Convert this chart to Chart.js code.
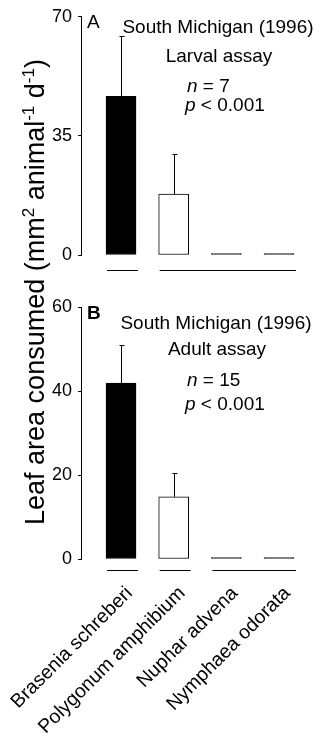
<!DOCTYPE html>
<html><head><meta charset="utf-8">
<script src="https://cdn.jsdelivr.net/npm/chart.js@4"></script>
<style>
html,body{margin:0;padding:0;background:#fff;}
#wrap{position:relative;width:321px;height:741px;overflow:hidden;background:#fff;}
#ca{position:absolute;left:0;top:0;}
#cb{position:absolute;left:0;top:290px;}
#ytitle{position:absolute;left:-205px;top:277px;width:480px;height:30px;line-height:30px;text-align:center;
  font-family:"Liberation Sans",Arial,Helvetica,sans-serif;font-size:27px;white-space:nowrap;color:#000;
  transform:rotate(-90deg);transform-origin:50% 50%;}
#ytitle sup{font-size:17px;vertical-align:baseline;position:relative;top:-10px;}
</style>
</head><body>
<div id="wrap">
  <canvas id="ca" width="321" height="290"></canvas>
  <canvas id="cb" width="321" height="451"></canvas>
  <div id="ytitle">Leaf area consumed (mm<sup>2</sup> animal<sup>-1</sup> d<sup>-1</sup>)</div>
</div>
<script>
// ---------- data ----------
const categories = ['Brasenia schreberi', 'Polygonum amphibium', 'Nuphar advena', 'Nymphaea odorata'];
const larvalMean = [46.6, 17.9, 0, 0];
const larvalSE   = [17.8, 11.7, 0, 0];
const adultMean  = [41.9, 14.8, 0, 0];
const adultSE    = [9.1, 5.7, 0, 0];
const larvalTicks = [0, 35, 70];
const adultTicks  = [0, 20, 40, 60];
const larvalGroups = [[0, 0], [1, 3]];
const adultGroups  = [[0, 0], [1, 1], [2, 3]];
const larvalText = ['A', 'South Michigan (1996)', 'Larval assay', '7', '0.001'];
const adultText  = ['B', 'South Michigan (1996)', 'Adult assay', '15', '0.001'];

// ---------- drawing ----------
const FAM = '"Liberation Sans", Arial, Helvetica, sans-serif';
const fills = ['#000', '#fff', '#fff', '#fff'];
const NOTE_SIZE = 19;
const LABEL_SHIFT = 0.16; // label anchor offset (in category units)

function annotPlugin(means, se, groups, groupLevel, notes) {
  return {
    id: 'annot',
    afterDatasetsDraw(chart) {
      const ctx = chart.ctx;
      const meta = chart.getDatasetMeta(0);
      const ys = chart.scales.y;
      ctx.save();
      ctx.strokeStyle = '#000';
      ctx.lineWidth = 1;
      // error bars
      meta.data.forEach((bar, i) => {
        if (!se[i]) return;
        const top = Math.round(ys.getPixelForValue(means[i] + se[i])) + 0.5;
        const x = Math.round(bar.x) + 0.5;
        ctx.beginPath();
        ctx.moveTo(x, bar.y);
        ctx.lineTo(x, top);
        ctx.moveTo(x - 2, top);
        ctx.lineTo(x + 3, top);
        ctx.stroke();
      });
      // grouping lines
      groups.forEach(([a, b]) => {
        const l = meta.data[a].x - meta.data[a].width / 2 + 1;
        const r = meta.data[b].x + meta.data[b].width / 2 + 2;
        const y = Math.round(ys.getPixelForValue(groupLevel)) + 0.5;
        ctx.beginPath();
        ctx.moveTo(l, y);
        ctx.lineTo(r, y);
        ctx.stroke();
      });
      // text notes
      ctx.fillStyle = '#000';
      ctx.textBaseline = 'alphabetic';
      notes.forEach(n => {
        let total = 0;
        n.parts.forEach(p => { ctx.font = p[1] + ' ' + NOTE_SIZE + 'px ' + FAM; total += ctx.measureText(p[0]).width; });
        let x = n.align === 'center' ? n.x - total / 2 : n.x;
        ctx.textAlign = 'left';
        n.parts.forEach(p => {
          ctx.font = p[1] + ' ' + NOTE_SIZE + 'px ' + FAM;
          ctx.fillText(p[0], x, n.y);
          x += ctx.measureText(p[0]).width;
        });
      });
      ctx.restore();
    }
  };
}

function makeChart(el, cfg) {
  return new Chart(el, {
    type: 'bar',
    data: {
      datasets: [{
        data: cfg.means.map((v, i) => ({ x: i, y: v })),
        backgroundColor: c => (c.raw && c.raw.y === 0) ? '#000' : fills[c.dataIndex],
        borderColor: '#000',
        borderWidth: 1,
        borderSkipped: false,
        barThickness: 30,
        minBarLength: 1.5
      }]
    },
    options: {
      responsive: false,
      animation: false,
      devicePixelRatio: 1,
      layout: { padding: cfg.padding },
      plugins: { legend: { display: false }, tooltip: { enabled: false } },
      scales: {
        x: {
          type: 'linear', min: -0.76, max: 3.493, offset: false,
          display: cfg.showX,
          afterBuildTicks: s => { s.ticks = categories.map((c, i) => ({ value: i + LABEL_SHIFT })); },
          afterFit: s => {
            if (cfg.xHeight) s.height = cfg.xHeight;
            s.paddingLeft = 0; s.paddingRight = 0;
          },
          grid: { display: false, offset: false },
          border: { display: false },
          ticks: {
            autoSkip: false, maxRotation: 45, minRotation: 45, padding: 15,
            color: '#000', font: { family: FAM, size: 19.5 },
            callback: v => categories[Math.round(v)]
          }
        },
        y: {
          min: 0, max: cfg.max,
          afterBuildTicks: s => { s.ticks = cfg.ticks.map(v => ({ value: v })); },
          afterFit: s => { s.width = 81; },
          grid: { drawOnChartArea: false, drawTicks: true, tickLength: 3, color: '#000', lineWidth: 1 },
          border: { display: true, color: '#000', width: 1 },
          ticks: { color: '#000', padding: 6, font: { family: FAM, size: 18 } }
        }
      }
    },
    plugins: [annotPlugin(cfg.means, cfg.se, cfg.groups, cfg.groupLevel, cfg.notes)]
  });
}

makeChart(document.getElementById('ca'), {
  means: larvalMean, se: larvalSE, groups: larvalGroups, groupLevel: -4.4,
  ticks: larvalTicks, max: 70, showX: false,
  padding: { top: 16, right: 16, bottom: 35, left: 0 },
  notes: [
    { parts: [[larvalText[0], 'normal']], x: 87, y: 28, align: 'left' },
    { parts: [[larvalText[1], 'normal']], x: 218, y: 33, align: 'center' },
    { parts: [[larvalText[2], 'normal']], x: 219, y: 62, align: 'center' },
    { parts: [['n', 'italic'], [' = ' + larvalText[3], 'normal']], x: 187, y: 92, align: 'left' },
    { parts: [['p', 'italic'], [' < ' + larvalText[4], 'normal']], x: 185, y: 111, align: 'left' }
  ]
});

makeChart(document.getElementById('cb'), {
  means: adultMean, se: adultSE, groups: adultGroups, groupLevel: -2.6,
  ticks: adultTicks, max: 60, showX: true, xHeight: 182,
  padding: { top: 17, right: 16, bottom: 0, left: 0 },
  notes: [
    { parts: [[adultText[0], 'bold']], x: 87, y: 29, align: 'left' },
    { parts: [[adultText[1], 'normal']], x: 216, y: 39, align: 'center' },
    { parts: [[adultText[2], 'normal']], x: 217, y: 65, align: 'center' },
    { parts: [['n', 'italic'], [' = ' + adultText[3], 'normal']], x: 187, y: 96, align: 'left' },
    { parts: [['p', 'italic'], [' < ' + adultText[4], 'normal']], x: 185, y: 120, align: 'left' }
  ]
});
</script>
</body></html>
